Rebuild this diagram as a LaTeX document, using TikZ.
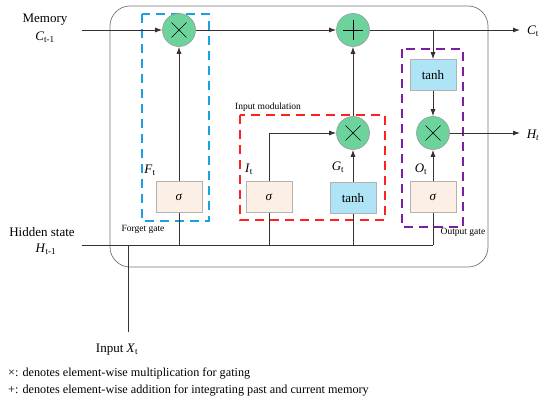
\documentclass[tikz,border=0pt]{standalone}
\usepackage{fontspec}
\setmainfont{Liberation Serif}
\usetikzlibrary{arrows.meta}
\definecolor{linec}{HTML}{3B2F2F}
\definecolor{opg}{HTML}{6BD39B}
\definecolor{sigf}{HTML}{FCEFE6}
\definecolor{tanhf}{HTML}{AEE4F5}
\definecolor{fblue}{HTML}{1BA1E2}
\definecolor{ired}{HTML}{FF2020}
\definecolor{opurp}{HTML}{7B1FA2}
\tikzset{
  op/.style={circle, fill=opg, draw=gray!80, line width=0.6pt, minimum size=33pt, inner sep=0pt},
  mult/.style={op, path picture={
    \draw[line width=0.7pt, black] ([shift={(-7.5pt,-7.5pt)}]path picture bounding box.center) -- ([shift={(7.5pt,7.5pt)}]path picture bounding box.center);
    \draw[line width=0.7pt, black] ([shift={(-7.5pt,7.5pt)}]path picture bounding box.center) -- ([shift={(7.5pt,-7.5pt)}]path picture bounding box.center);}},
  addop/.style={op, path picture={
    \draw[line width=0.7pt, black] ([shift={(-10pt,0pt)}]path picture bounding box.center) -- ([shift={(10pt,0pt)}]path picture bounding box.center);
    \draw[line width=0.7pt, black] ([shift={(0pt,-10pt)}]path picture bounding box.center) -- ([shift={(0pt,10pt)}]path picture bounding box.center);}},
  sigbox/.style={rectangle, fill=sigf, draw=gray!60, line width=0.6pt, minimum width=46pt, minimum height=31pt, inner sep=0pt, font=\fontsize{13}{15}\selectfont},
  tanhbox/.style={sigbox, fill=tanhf},
  conn/.style={draw=linec, line width=0.9pt},
  arr/.style={conn, -{Latex[length=7pt,width=5pt]}},
  gatebox/.style={line width=1.6pt, dash pattern=on 9pt off 6pt},
  lbl/.style={font=\fontsize{13}{15}\selectfont, inner sep=0pt},
  small/.style={font=\fontsize{9.5}{11}\selectfont, inner sep=0pt},
  legend/.style={font=\fontsize{12.2}{14}\selectfont, inner sep=0pt, anchor=west}
}
\begin{document}
\begin{tikzpicture}[x=1pt, y=-1pt]
\useasboundingbox (0,0) rectangle (550,401);
% cell outline
\draw[gray!90!black, line width=0.7pt, rounded corners=20pt] (110,6) rectangle (488,267);
% gate boxes
\draw[gatebox, fblue] (142,14) rectangle (209,221);
\draw[gatebox, ired] (240,115) rectangle (385,220);
\draw[gatebox, opurp] (402,49) rectangle (463,227);
% operators
\node[mult] (fm) at (179,30) {};
\node[addop] (pl) at (353,30) {};
\node[mult] (im) at (353,133) {};
\node[mult] (om) at (433,133) {};
% boxes
\node[sigbox] (fs) at (179,197) {\textit{σ}};
\node[sigbox] (is) at (269,197) {\textit{σ}};
\node[tanhbox] (gt) at (353,198) {tanh};
\node[sigbox] (os) at (433,197) {\textit{σ}};
\node[tanhbox] (ot) at (433,75) {tanh};
% coordinates
\coordinate (memin) at (82,30);
\coordinate (ctout) at (520,30);
\coordinate (br) at (433,30);
\coordinate (htout) at (520,133);
\coordinate (hin) at (82,245);
\coordinate (hend) at (433,245);
\coordinate (xin) at (128,332);
\coordinate (xj) at (128,245);
\coordinate (fj) at (179,245);
\coordinate (ij) at (269,245);
\coordinate (gj) at (353,245);
% connectors
\draw[arr] (memin) -- (fm);
\draw[arr] (fm) -- (pl);
\draw[arr] (pl) -- (ctout);
\draw[arr] (br) -- (ot.north);
\draw[arr] (ot) -- (om);
\draw[arr] (om) -- (htout);
\draw[arr] (os) -- (om);
\draw[arr] (fs) -- (fm);
\draw[arr] (is.north) |- (im.west);
\draw[arr] (gt) -- (im);
\draw[arr] (im) -- (pl);
\draw[conn] (hin) -- (hend);
\draw[conn] (xin) -- (xj);
\draw[conn] (fs.south) -- (fj);
\draw[conn] (is.south) -- (ij);
\draw[conn] (gt.south) -- (gj);
\draw[conn] (os.south) -- (hend);
% labels
\node[lbl] (memt) at (45,20) {Memory};
\node[lbl] (memc) at (45,37) {\textit{C}\textsubscript{t-1}};
\node[lbl] (hidt) at (42,232) {Hidden state};
\node[lbl] (hidh) at (46,249) {\textit{H}\textsubscript{t-1}};
\node[lbl] (ctl) at (533,31) {\textit{C}\textsubscript{t}};
\node[lbl] (htl) at (533,135) {\textit{H\textsubscript{t}}};
\node[lbl] (ftl) at (150,170) {\textit{F}\textsubscript{t}};
\node[lbl] (itl) at (249,169) {\textit{I}\textsubscript{t}};
\node[lbl] (gtl) at (338,167) {\textit{G}\textsubscript{t}};
\node[lbl] (otl) at (421,169) {\textit{O}\textsubscript{t}};
\node[small, anchor=west] (iml) at (235,107) {Input modulation};
\node[small] (fgl) at (143,229) {Forget gate};
\node[small] (ogl) at (463,232) {Output gate};
\node[lbl] (xl) at (117,350) {Input \textit{X}\textsubscript{t}};
\node[legend] (lg1) at (8,374) {×: denotes element-wise multiplication for gating};
\node[legend] (lg2) at (8,391) {+: denotes element-wise addition for integrating past and current memory};
\end{tikzpicture}
\end{document}
